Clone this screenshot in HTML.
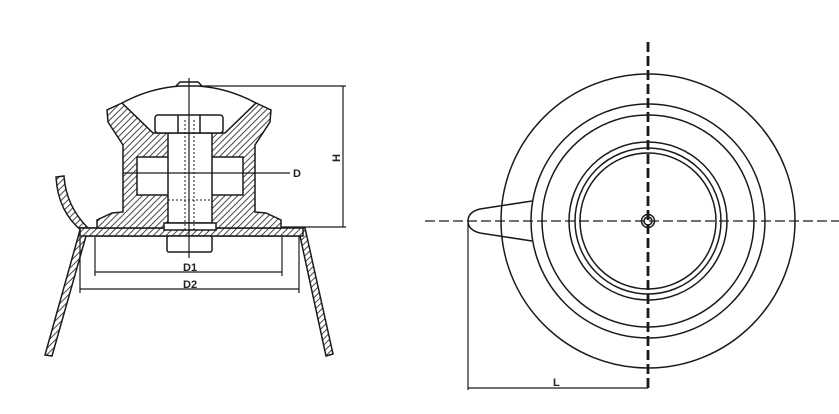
<!DOCTYPE html>
<html><head><meta charset="utf-8"><style>
html,body{margin:0;padding:0;background:#fff;}
svg{display:block;}
text{font-family:"Liberation Sans",sans-serif;font-size:11px;font-weight:bold;fill:#222;}
</style></head><body>
<svg width="839" height="414" viewBox="0 0 839 414" xmlns="http://www.w3.org/2000/svg">
<defs>
<pattern id="h" patternUnits="userSpaceOnUse" width="4.5" height="4.5" patternTransform="rotate(45)">
<rect width="4.5" height="4.5" fill="#fff"/>
<line x1="0" y1="0" x2="0" y2="4.5" stroke="#333" stroke-width="1.8"/>
</pattern>
</defs>
<g stroke="#1a1a1a" stroke-width="1.5" fill="none">
<path d="M56,177 Q58,212 82,231 L88,228 Q66,206 64,176 Z" fill="url(#h)"/>
<path d="M80,230 L45,355 L52,356 L86,236 L300,236 L326,356 L333,354 L305,228 L80,228 Z" fill="url(#h)"/>
<rect x="80" y="228" width="223" height="8" fill="url(#h)"/>
<path d="M122,103 L107,110 L108,122 L123,145 L123,212 L112,213 L97,220 L97,228 L281,228 L281,220 L266,213 L255,212 L255,145 L270,122 L271,110 L256,103 L225,133 L153,133 Z" fill="url(#h)"/>
<rect x="137" y="157" width="106" height="38" fill="#fff"/>
<path d="M168,133 L212,133 L212,223 L168,223 Z" fill="#fff"/>
<rect x="164" y="223" width="52" height="7" fill="#fff"/>
<rect x="167" y="236" width="45" height="16" rx="2" fill="#fff"/>
<rect x="155" y="115" width="68" height="18" rx="3" fill="#fff"/>
<line x1="178" y1="115" x2="178" y2="133"/><line x1="200" y1="115" x2="200" y2="133"/>
<path d="M122,103 Q150,88 180,86 L198,86 Q228,88 256,103"/>
<path d="M176,86 L180,82 L198,82 L202,86"/>
<line x1="185" y1="120" x2="185" y2="230" stroke-dasharray="2,2" stroke-width="1"/>
<line x1="194" y1="120" x2="194" y2="230" stroke-dasharray="2,2" stroke-width="1"/>
<line x1="168" y1="200" x2="212" y2="200" stroke-dasharray="2,2" stroke-width="1"/>
<line x1="189" y1="78" x2="189" y2="258" stroke-width="1.2"/>
<line x1="123" y1="173" x2="290" y2="173" stroke-width="1.2"/>
<line x1="200" y1="86" x2="346" y2="86" stroke-width="1.2"/>
<line x1="282" y1="227" x2="346" y2="227" stroke-width="1.2"/>
<line x1="343" y1="86" x2="343" y2="227" stroke-width="1.2"/>
<line x1="95" y1="237" x2="95" y2="276" stroke-width="1.2"/>
<line x1="282" y1="237" x2="282" y2="276" stroke-width="1.2"/>
<line x1="95" y1="272" x2="282" y2="272" stroke-width="1.2"/>
<line x1="80" y1="237" x2="80" y2="293" stroke-width="1.2"/>
<line x1="299" y1="237" x2="299" y2="293" stroke-width="1.2"/>
<line x1="80" y1="289" x2="299" y2="289" stroke-width="1.2"/>

<circle cx="648" cy="221" r="147"/>
<circle cx="648" cy="221" r="117"/>
<circle cx="648" cy="221" r="106"/>
<circle cx="648" cy="221" r="79"/>
<circle cx="648" cy="221" r="73"/>
<circle cx="648" cy="221" r="68"/>
<circle cx="648" cy="221" r="6.5"/>
<circle cx="648" cy="221" r="4"/>
<path d="M532,201 L480,209 Q468,212 468,221 Q468,230 480,233 L532,241"/>
<line x1="425" y1="221" x2="839" y2="221" stroke-dasharray="10,4" stroke-width="1.2"/>
<line x1="648" y1="42" x2="648" y2="388" stroke-dasharray="10,4" stroke-width="2.8"/>
<line x1="468" y1="221" x2="468" y2="390" stroke-width="1.2"/>
<line x1="468" y1="388" x2="648" y2="388" stroke-width="1.2"/>
</g>
<text x="183" y="271">D1</text>
<text x="183" y="288">D2</text>
<text x="293" y="177">D</text>
<text x="553" y="386">L</text>
<text x="0" y="0" transform="translate(340,162) rotate(-90)">H</text>
</svg>
</body></html>
